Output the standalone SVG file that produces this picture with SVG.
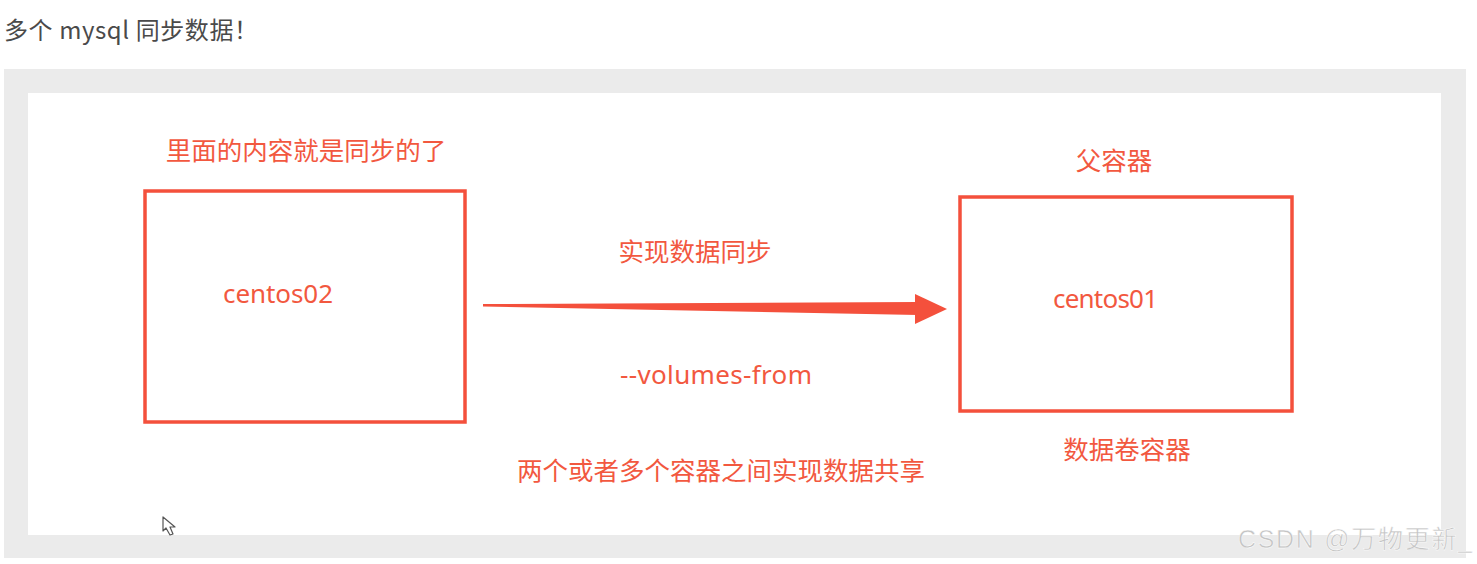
<svg xmlns="http://www.w3.org/2000/svg" width="1477" height="564" viewBox="0 0 1477 564">
<style>
.lbl{font-family:"Noto Sans CJK SC","Noto Sans",sans-serif;fill:#f2583f;font-size:25.5px}
.lat{font-family:"Noto Sans","Noto Sans CJK SC",sans-serif;fill:#f2583f;font-size:26px}
.box{fill:none;stroke:#f4503c;stroke-width:3.5}
.hdr{font-family:"Noto Sans CJK SC","Noto Sans",sans-serif;fill:#4a4a4a;font-size:24px}
.wm{font-family:"Liberation Sans","Noto Sans CJK SC",sans-serif;fill:#c4c4c4;font-size:25px}
</style>
<rect width="1477" height="564" fill="#ffffff"/>
<text class="hdr" x="4" y="39" textLength="254" lengthAdjust="spacing">多个 mysql 同步数据！</text>
<rect x="4" y="69" width="1462" height="489" fill="#ebebeb"/>
<rect x="28" y="93" width="1413" height="442" fill="#ffffff"/>
<g id="centos02">
<rect class="box" x="145" y="191" width="320" height="231"/>
<text class="lat" x="223" y="303" textLength="110">centos02</text>
<text class="lbl" x="306" y="160" text-anchor="middle">里面的内容就是同步的了</text>
</g>
<g id="centos01">
<rect class="box" x="960" y="197" width="332" height="214"/>
<text class="lat" x="1053" y="308" textLength="105">centos01</text>
<text class="lbl" x="1114" y="170" text-anchor="middle">父容器</text>
<text class="lbl" x="1127" y="459" text-anchor="middle">数据卷容器</text>
</g>
<g id="connectors">
<polygon points="483,304 918,302 918,315 483,306.5" fill="#f4503c"/>
<polygon points="915,294 947,309 915,324" fill="#f4503c"/>
<text class="lbl" x="695" y="261" text-anchor="middle">实现数据同步</text>
<text class="lat" x="620" y="384" textLength="192">--volumes-from</text>
</g>
<text class="lbl" x="721" y="480" text-anchor="middle">两个或者多个容器之间实现数据共享</text>
<path d="M163,517 L163,531 L166,528 L170,535 L173,534 L170,527 L175,527 Z" fill="#ffffff" stroke="#555" stroke-width="1.2" stroke-linejoin="round"/>
<text class="wm" x="1238" y="548" textLength="234" stroke="#ffffff" stroke-width="0.5">CSDN @万物更新_</text>
</svg>
